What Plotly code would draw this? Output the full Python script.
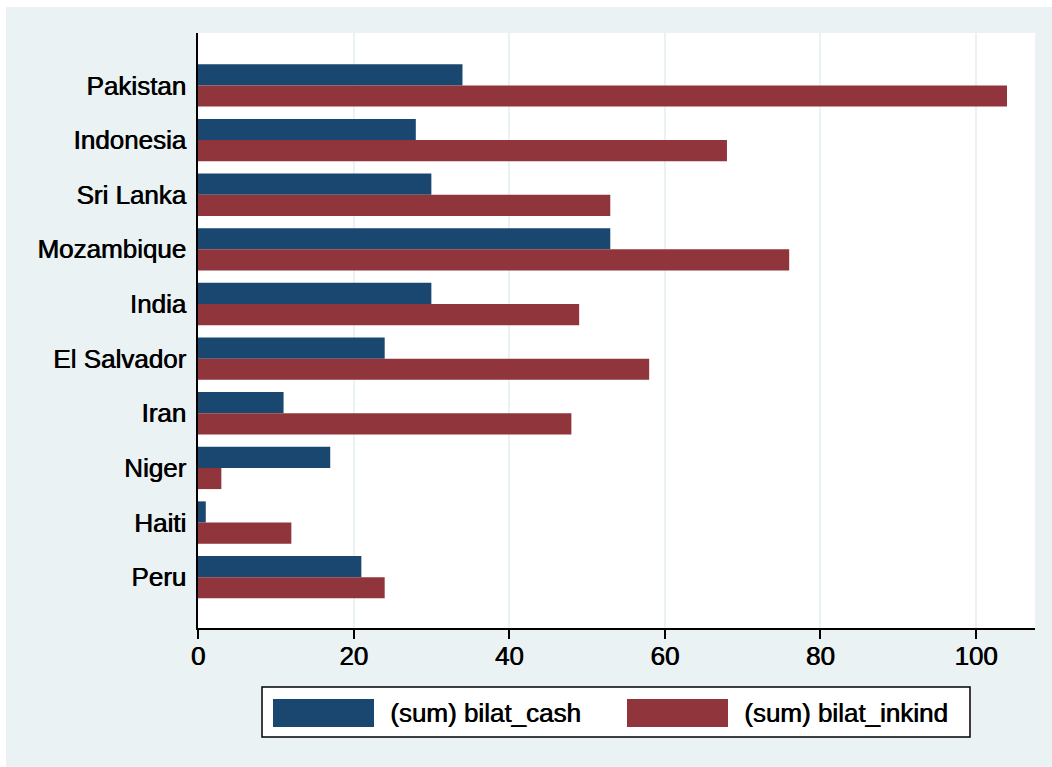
import plotly.graph_objects as go

countries = ["Pakistan", "Indonesia", "Sri Lanka", "Mozambique", "India",
             "El Salvador", "Iran", "Niger", "Haiti", "Peru"]
bilat_cash = [34, 28, 30, 53, 30, 24, 11, 17, 1, 21]
bilat_inkind = [104, 68, 53, 76, 49, 58, 48, 3, 12, 24]
x_ticks = [0, 20, 40, 60, 80, 100]
legend_labels = ["(sum) bilat_cash", "(sum) bilat_inkind"]

NAVY = "#1a476f"
MAROON = "#90353b"
BG = "#eaf2f3"
FONT = "Liberation Sans, Arial, sans-serif"
SHADOW = "0.7px 0px 0px black"

W, H = 1052, 767
L, R, T, B = 198, 1035, 33, 628


def px2x(px):
    return (px - L) / (R - L)


def py2y(py):
    return (B - py) / (B - T)


def tfont():
    return dict(family=FONT, size=26, color="black", shadow=SHADOW)


fig = go.Figure()
fig.add_trace(go.Bar(y=countries, x=bilat_cash, orientation="h", name=legend_labels[0],
                     marker=dict(color=NAVY, line=dict(width=0)), showlegend=False))
fig.add_trace(go.Bar(y=countries, x=bilat_inkind, orientation="h", name=legend_labels[1],
                     marker=dict(color=MAROON, line=dict(width=0)), showlegend=False))

shapes = [
    # white strips at the top and left of the page
    dict(type="rect", xref="paper", yref="paper", x0=px2x(0), x1=px2x(W), y0=py2y(7), y1=py2y(0),
         fillcolor="white", line=dict(width=0), layer="above"),
    dict(type="rect", xref="paper", yref="paper", x0=px2x(0), x1=px2x(6), y0=py2y(H), y1=py2y(0),
         fillcolor="white", line=dict(width=0), layer="above"),
    # legend box
    dict(type="rect", xref="paper", yref="paper", x0=px2x(262), x1=px2x(970), y0=py2y(737), y1=py2y(687),
         fillcolor="white", line=dict(color="black", width=1.5), layer="above"),
    dict(type="rect", xref="paper", yref="paper", x0=px2x(273), x1=px2x(374), y0=py2y(727), y1=py2y(699),
         fillcolor=NAVY, line=dict(width=0), layer="above"),
    dict(type="rect", xref="paper", yref="paper", x0=px2x(627), x1=px2x(728), y0=py2y(727), y1=py2y(699),
         fillcolor=MAROON, line=dict(width=0), layer="above"),
]

annotations = [
    dict(xref="paper", yref="paper", x=px2x(388), y=py2y(713), xanchor="left", yanchor="middle",
         text=legend_labels[0], showarrow=False, font=tfont()),
    dict(xref="paper", yref="paper", x=px2x(742), y=py2y(713), xanchor="left", yanchor="middle",
         text=legend_labels[1], showarrow=False, font=tfont()),
]

fig.update_layout(
    width=W, height=H,
    margin=dict(l=L, r=W - R, t=T, b=H - B, pad=0),
    paper_bgcolor=BG, plot_bgcolor="white",
    barmode="group", bargap=0.225, bargroupgap=0,
    font=dict(family=FONT, size=26, color="black"),
    shapes=shapes, annotations=annotations,
    showlegend=False,
    xaxis=dict(range=[0, 107.6], tickvals=x_ticks, ticktext=[str(v) for v in x_ticks],
               showgrid=True, gridcolor=BG, gridwidth=2,
               showline=True, linecolor="black", linewidth=1.5,
               ticks="outside", ticklen=9, tickwidth=1.5, tickcolor="black",
               ticklabelstandoff=-5,
               tickfont=tfont(),
               zeroline=False, fixedrange=True),
    yaxis=dict(type="category", categoryorder="array", categoryarray=countries,
               range=[9.93, -0.96], showgrid=False,
               showline=True, linecolor="black", linewidth=1.5,
               ticks="", ticklabelstandoff=5,
               tickfont=tfont(),
               zeroline=False, fixedrange=True),
)

fig.write_html("out.html")
